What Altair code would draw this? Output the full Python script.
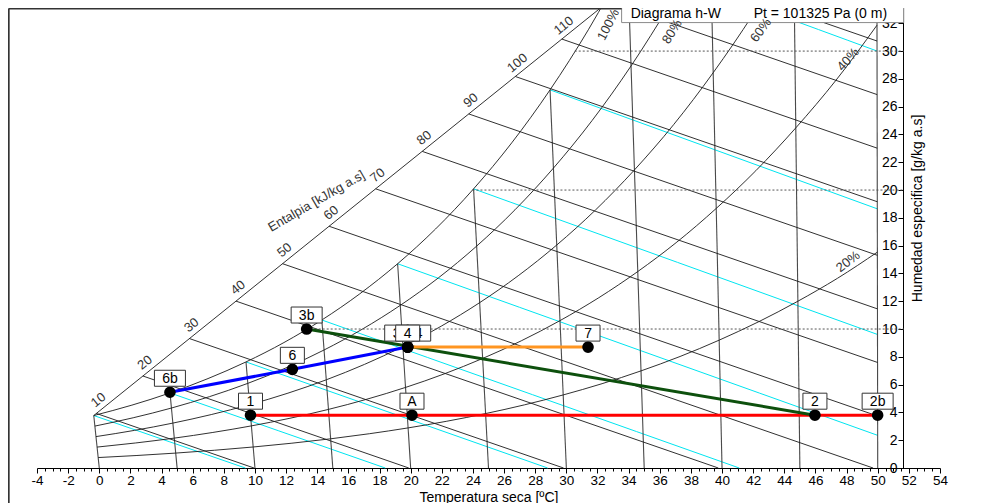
import altair as alt
import pandas as pd

# ---------------- chart constants ----------------
P_ATM = 101.325          # kPa  (Pt = 101325 Pa)
B_OBL = 2.58             # oblique shift of the h-W projection (temperature units per g/kg)
W_TOP = 33.1             # top of the drawing area (g/kg)
X_MIN, X_MAX = -4, 54
X_RIGHT_AXIS = 51.67     # where the humidity axis stands on the temperature scale
T_GRID_MAX = 50
ENTH_AXIS_SLOPE = 0.2694 # g/kg per kJ/kg along the oblique enthalpy scale
FONT = "Liberation Sans"

# psychrometric table: temperature (C) -> saturation pressure (kPa)
T_TAB = [0, 2.5, 5, 7.5, 10, 12.5, 15, 17.5, 20, 22.5, 25, 27.5, 30, 32.5, 35, 37.5, 40, 42.5, 45, 47.5, 50]
PSAT_TAB = [0.6112, 0.7316, 0.8726, 1.0375, 1.2282, 1.4494, 1.7057, 2.0009, 2.3392, 2.7264,
            3.1697, 3.6733, 4.2467, 4.8945, 5.6290, 6.4521, 7.3851, 8.4233, 9.5898, 10.8810, 12.3440]

RH_LEVELS = [1.0, 0.8, 0.6, 0.4, 0.2]
ISOTHERMS = [0, 5, 10, 15, 20, 25, 30, 35, 40, 45, 50]
ENTHALPIES = [10, 20, 30, 40, 50, 60, 70, 80, 90, 100, 110, 120, 130]
ENTH_LABELS = [10, 20, 30, 40, 50, 60, 70, 80, 90, 100, 110]
WETBULBS = [0, 5, 10, 15, 20, 25, 30, 35]
DOTTED_W = [10, 20, 30]

RH_LABEL_TEXT = ["100%", "80%", "60%", "40%", "20%"]
RH_LABEL_X = [32.7, 36.8, 42.5, 48.1, 48.1]
RH_LABEL_W = [31.9, 31.4, 31.5, 29.4, 14.85]
RH_LABEL_ANGLE = [297, 302, 306, 312, 322]

# state points (dry-bulb C, humidity g/kg)
PT_NAME = ["1", "A", "2", "2b", "3b", "6b", "6", "7", "3", "4", "4"]
PT_T = [10.0, 20.3, 46.0, 50.0, 14.0, 5.0, 12.9, 31.7, 20.3, 20.3, 20.3]
PT_W = [3.8, 3.8, 3.8, 3.8, 10.0, 5.45, 7.1, 8.7, 8.7, 8.7, 8.7]
PT_LABEL_SHIFT = [0, 0, 0, 0, 0, 0, 0, 0, -11, 11, 0]
PT_LABEL_GROUP = [0, 0, 0, 0, 0, 0, 0, 0, 0, 1, 2]

# processes (lists of point names) and colours
PROC_PATH = [["1", "2b"], ["3b", "2"], ["6b", "6", "4"], ["4", "7"]]
PROC_COLOR = ["#ff0000", "#0d500d", "#0000ff", "#ff9520"]


def ws(p, phi=1.0):
    pv = phi * p
    return 622.0 * pv / (P_ATM - pv)


def enthalpy(t, w):
    return 1.006 * t + w / 1000.0 * (2501.0 + 1.86 * t)


def proj(t, w):
    return enthalpy(t, w) / 1.006 - B_OBL * w


PSAT = dict(zip(T_TAB, PSAT_TAB))

grid = []


def add(kind, gid, pts):
    for i, (x, w) in enumerate(pts):
        grid.append({"kind": kind, "gid": f"{kind}{gid}", "o": i, "x": x, "w": w})


# isotherms
for t in ISOTHERMS:
    wt = min(ws(PSAT[t]), W_TOP)
    add("iso", t, [(proj(t, 0), 0), (proj(t, wt), wt)])

# relative humidity curves
sat_pts = []
for phi in RH_LEVELS:
    pts = []
    for t, p in zip(T_TAB, PSAT_TAB):
        w = ws(p, phi)
        pts.append((proj(t, w), w))
        if w > W_TOP:
            break
    if phi == 1.0:
        sat_pts = pts
    add("rh", int(phi * 100), pts)

# oblique enthalpy scale
W0 = ws(PSAT[0])
H0 = enthalpy(0, W0)


def w_axis(h):
    return W0 + ENTH_AXIS_SLOPE * (h - H0)


h_top = H0 + (W_TOP - W0) / ENTH_AXIS_SLOPE
add("hax", 0, [(H0 / 1.006 - B_OBL * W0, W0), (h_top / 1.006 - B_OBL * W_TOP, W_TOP)])

# constant enthalpy lines
for h in ENTHALPIES:
    w_s = min(w_axis(h), W_TOP)
    w_e = max(0.0, (h - 1.006 * T_GRID_MAX) / (2.501 + 1.86 * T_GRID_MAX / 1000.0))
    if w_e >= w_s:
        continue
    add("enth", h, [(h / 1.006 - B_OBL * w_s, w_s), (h / 1.006 - B_OBL * w_e, w_e)])

# wet-bulb lines
for tw in WETBULBS:
    wsw = ws(PSAT[tw]) / 1000.0

    def wwb(t):
        return max(0.0, ((2501 - 2.326 * tw) * wsw - 1.006 * (t - tw)) / (2501 + 1.86 * t - 4.186 * tw) * 1000.0)

    if wsw * 1000 <= W_TOP:
        t_s = tw
    else:
        wt = W_TOP / 1000.0
        t_s = ((2501 - 2.326 * tw) * wsw + 1.006 * tw - wt * (2501 - 4.186 * tw)) / (1.006 + 1.86 * wt)
    t_e = min(tw + (2501 - 2.326 * tw) * wsw / 1.006, T_GRID_MAX)
    pts = []
    for k in range(5):
        t = t_s + (t_e - t_s) * k / 4
        w = wwb(t)
        pts.append((proj(t, w), w))
    add("wb", tw, pts)

# dotted humidity lines from the saturation curve to the axis
for wd in DOTTED_W:
    for (xa, wa), (xb, wb) in zip(sat_pts[:-1], sat_pts[1:]):
        if wa <= wd <= wb:
            xs = xa + (xb - xa) * (wd - wa) / (wb - wa)
            add("dot", wd, [(xs, wd), (X_RIGHT_AXIS, wd)])
            break

gdf = pd.DataFrame(grid)

# ---------------- encodings ----------------
X_TICKS = [X_MIN + 0.5 * i for i in range(int((X_MAX - X_MIN) * 2) + 1)]
X_SCALE = alt.Scale(domain=[X_MIN, X_MAX], nice=False, zero=False)
Y_SCALE = alt.Scale(domain=[0, W_TOP], nice=False, zero=False)
X_AXIS = alt.Axis(
    values=X_TICKS,
    labelExpr="datum.value % 2 === 0 ? '' + datum.value : ''",
    tickSize={"condition": {"test": "datum.value % 2 === 0", "value": 5}, "value": 3},
    labelFontSize=13.5, labelFont=FONT, labelColor="black", labelPadding=0,
    labelOverlap=False, labelFlush=False, labelBound=False,
    tickColor="black", domainColor="black", grid=False,
    title="Temperatura seca [ºC]", titleFont=FONT, titleFontSize=14,
    titleFontWeight="normal", titleColor="black", titlePadding=4,
)
Y_AXIS = alt.Axis(
    orient="left", offset=-866, values=list(range(0, 33, 2)),
    labelFontSize=14, labelFont=FONT, labelColor="black", labelPadding=1,
    labelOverlap=False, labelFlush=False, labelBound=False,
    tickSize=5, tickColor="black", domainColor="black", grid=False, zindex=0,
    title="Humedad especifica [g/kg a.s]", titleFont=FONT, titleFontSize=14,
    titleFontWeight="normal", titleColor="black", titleAngle=270,
    titleX=18, titleY=200, titleAlign="center", titleBaseline="alphabetic",
)
X_ENC = alt.X("x:Q", scale=X_SCALE, axis=X_AXIS)
Y_ENC = alt.Y("w:Q", scale=Y_SCALE, axis=Y_AXIS)


def grid_layer(kind, **mk):
    return alt.Chart(gdf[gdf.kind == kind]).mark_line(**mk).encode(
        x=X_ENC, y=Y_ENC, detail="gid:N", order="o:Q")


layers = [
    grid_layer("wb", color="#00e5f0", strokeWidth=1),
    grid_layer("iso", color="#4a4a4a", strokeWidth=1.1),
    grid_layer("enth", color="#1a1a1a", strokeWidth=0.9),
    grid_layer("rh", color="#1a1a1a", strokeWidth=0.9, interpolate="monotone", clip=True),
    grid_layer("hax", color="#1a1a1a", strokeWidth=0.9),
    grid_layer("dot", color="#555555", strokeWidth=1, strokeDash=[2, 2]),
]

# enthalpy scale labels
hl = pd.DataFrame({"h": ENTH_LABELS})
hl["w"] = [w_axis(h) + 0.97 for h in ENTH_LABELS]
hl["x"] = [h / 1.006 - B_OBL * w_axis(h) + 0.13 for h in ENTH_LABELS]
hl["txt"] = [str(h) for h in ENTH_LABELS]
layers.append(alt.Chart(hl).mark_text(font=FONT, fontSize=13, color="#333333", angle=321,
                                       align="center", baseline="middle").encode(
    x=X_ENC, y=Y_ENC, text="txt:N"))
layers.append(alt.Chart(pd.DataFrame({"x": [13.95], "w": [19.2], "txt": ["Entalpia [kJ/kg a.s]"]}))
              .mark_text(font=FONT, fontSize=13, color="#333333", angle=330, align="center",
                         baseline="middle").encode(x=X_ENC, y=Y_ENC, text="txt:N"))

# processes
pos = {n: (proj(t, w), w) for n, t, w in zip(PT_NAME, PT_T, PT_W)}
for i, (path, col) in enumerate(zip(PROC_PATH, PROC_COLOR)):
    pdf = pd.DataFrame({"x": [pos[n][0] for n in path], "w": [pos[n][1] for n in path],
                        "o": list(range(len(path)))})
    layers.append(alt.Chart(pdf).mark_line(color=col, strokeWidth=3).encode(
        x=X_ENC, y=Y_ENC, order="o:Q"))

pts = pd.DataFrame({"name": PT_NAME, "x": [proj(t, w) for t, w in zip(PT_T, PT_W)], "w": PT_W,
                    "dx": PT_LABEL_SHIFT, "g": PT_LABEL_GROUP})
pts["shape"] = ["M-1,-0.667H1V0.667H-1Z" if len(n) == 1 else "M-1,-0.516H1V0.516H-1Z" for n in pts.name]
pts["size"] = [576 if len(n) == 1 else 961 for n in pts.name]

layers.append(alt.Chart(pts).mark_circle(size=135, color="black", opacity=1).encode(x=X_ENC, y=Y_ENC))

for g in [0, 1, 2]:
    sub = pts[pts.g == g]
    for _, r in sub.iterrows():
        one = pd.DataFrame([r])
        layers.append(alt.Chart(one).mark_point(filled=True, fill="white", stroke="#333333",
                                                strokeWidth=1, opacity=1, fillOpacity=1,
                                                yOffset=-14, xOffset=float(r.dx)).encode(
            x=X_ENC, y=Y_ENC, shape=alt.Shape("shape:N", scale=None),
            size=alt.Size("size:Q", scale=None)))
        layers.append(alt.Chart(one).mark_text(font=FONT, fontSize=14, color="black", align="center",
                                               baseline="middle", yOffset=-13,
                                               xOffset=float(r.dx)).encode(
            x=X_ENC, y=Y_ENC, text="name:N"))

# title box and frame
box = pd.DataFrame({"x": [33.55], "x2": [X_RIGHT_AXIS], "w": [32.05], "w2": [34.5]})
layers.append(alt.Chart(box).mark_rect(fill="white", stroke="#8a8a8a", strokeWidth=1).encode(
    x=X_ENC, x2=alt.X2("x2"), y=Y_ENC, y2=alt.Y2("w2")))
ttl = pd.DataFrame({"x": [34.13, 42.03], "w": [32.39, 32.39],
                    "txt": ["Diagrama  h-W", "Pt = 101325 Pa  (0 m)"]})
layers.append(alt.Chart(ttl).mark_text(font=FONT, fontSize=14, color="black", align="left",
                                        baseline="alphabetic").encode(x=X_ENC, y=Y_ENC, text="txt:N"))

# relative humidity labels (drawn over the title box, as in the original)
rl = pd.DataFrame({"x": RH_LABEL_X, "w": RH_LABEL_W, "txt": RH_LABEL_TEXT, "a": RH_LABEL_ANGLE})
layers.append(alt.Chart(rl).mark_text(font=FONT, fontSize=13, color="#333333", align="center",
                                       baseline="middle").encode(
    x=X_ENC, y=Y_ENC, text="txt:N", angle=alt.Angle("a:Q", scale=None)))

frame = pd.DataFrame({"x": [-5.82, -5.82], "x2": [-5.82, 33.55], "w": [-4.0, W_TOP - 0.04],
                      "w2": [W_TOP - 0.04, W_TOP - 0.04]})
layers.append(alt.Chart(frame).mark_rule(color="#333333", strokeWidth=2).encode(
    x=X_ENC, x2=alt.X2("x2"), y=Y_ENC, y2=alt.Y2("w2")))

chart = alt.layer(*layers).properties(
    width=903, height=460,
    autosize=alt.AutoSizeParams(type="none"),
    padding={"left": 29, "top": 0, "right": 28, "bottom": 35},
).configure_view(stroke=None)

chart.save("out.html", embed_options={"renderer": "svg", "actions": False})
